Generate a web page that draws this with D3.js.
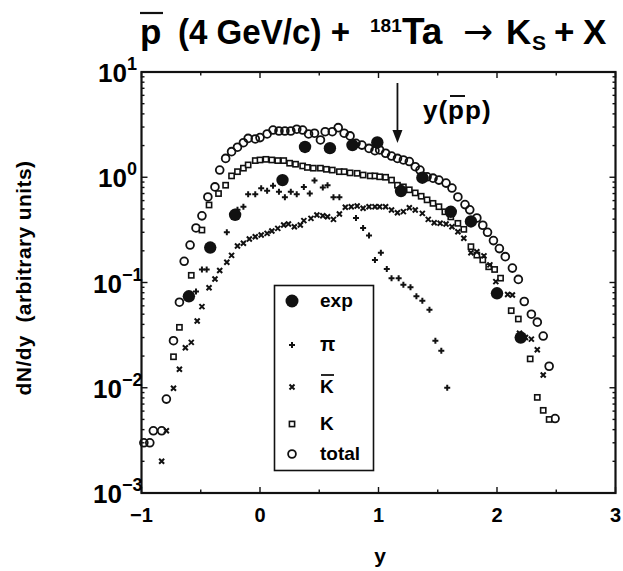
<!DOCTYPE html>
<html>
<head>
<meta charset="utf-8">
<script src="https://cdn.jsdelivr.net/npm/d3@7"></script>
<style>
  body { margin: 0; background: #fff; }
  svg { display: block; font-family: "Liberation Sans", Arial, sans-serif; font-weight: bold; }
</style>
</head>
<body>
<script>
// dN/dy of K_S for pbar(4 GeV/c) + Ta, rapidity vs yield

// experimental points (filled circles)
const expData = [
  [-0.60, 0.074], [-0.42, 0.215], [-0.21, 0.44], [0.19, 0.94], [0.38, 1.94],
  [0.59, 1.89], [0.78, 2.02], [0.99, 2.14], [1.19, 0.74], [1.37, 0.99],
  [1.61, 0.47], [1.78, 0.38], [2.00, 0.079], [2.20, 0.030]
];

// pion-induced component (plus)
const piData = [
  [-0.54, 0.082], [-0.49, 0.133], [-0.45, 0.133], [-0.28, 0.30], [-0.19, 0.49],
  [-0.14, 0.525], [-0.10, 0.69], [-0.04, 0.69], [0.01, 0.785], [0.06, 0.745],
  [0.11, 0.83], [0.16, 0.73], [0.21, 0.645], [0.26, 0.73], [0.31, 0.69],
  [0.37, 0.81], [0.42, 0.70], [0.46, 0.93], [0.53, 0.80], [0.57, 0.84],
  [0.62, 0.645], [0.67, 0.645], [0.81, 0.41], [0.87, 0.33], [0.92, 0.28],
  [0.97, 0.164], [1.02, 0.192], [1.07, 0.134], [1.11, 0.110], [1.17, 0.110],
  [1.21, 0.095], [1.27, 0.090], [1.32, 0.074], [1.37, 0.067], [1.43, 0.055],
  [1.48, 0.028], [1.53, 0.0225], [1.58, 0.0100]
];

// antikaon component (cross)
const kbarData = [
  [-0.83, 0.0020], [-0.79, 0.0039], [-0.73, 0.0099], [-0.68, 0.0150], [-0.63, 0.024],
  [-0.58, 0.027], [-0.53, 0.043], [-0.49, 0.059], [-0.43, 0.089], [-0.38, 0.108],
  [-0.34, 0.130], [-0.28, 0.156], [-0.24, 0.181], [-0.19, 0.222], [-0.14, 0.236],
  [-0.09, 0.259], [-0.04, 0.272], [0.01, 0.283], [0.06, 0.293], [0.10, 0.308],
  [0.15, 0.327], [0.20, 0.352], [0.24, 0.360], [0.29, 0.339], [0.34, 0.352],
  [0.37, 0.387], [0.43, 0.407], [0.48, 0.438], [0.53, 0.431], [0.57, 0.422],
  [0.62, 0.398], [0.67, 0.448], [0.72, 0.518], [0.77, 0.525], [0.82, 0.533],
  [0.87, 0.507], [0.92, 0.525], [0.97, 0.525], [1.01, 0.525], [1.06, 0.525],
  [1.11, 0.489], [1.16, 0.460], [1.21, 0.471], [1.26, 0.514], [1.31, 0.489],
  [1.37, 0.454], [1.42, 0.398], [1.47, 0.370], [1.52, 0.365], [1.57, 0.360],
  [1.62, 0.339], [1.67, 0.304], [1.72, 0.263], [1.78, 0.192], [1.83, 0.196],
  [1.89, 0.179], [1.94, 0.147], [1.99, 0.102], [2.09, 0.077], [2.13, 0.076],
  [2.19, 0.033], [2.24, 0.030], [2.29, 0.029], [2.34, 0.023], [2.39, 0.0132]
];

// kaon component (open square)
const kData = [
  [-0.73, 0.0197], [-0.68, 0.0375], [-0.58, 0.117], [-0.49, 0.315], [-0.43, 0.545],
  [-0.35, 0.70], [-0.29, 0.84], [-0.24, 1.03], [-0.19, 1.13], [-0.14, 1.22],
  [-0.10, 1.31], [-0.04, 1.44], [0.00, 1.46], [0.05, 1.48], [0.10, 1.46],
  [0.15, 1.44], [0.20, 1.44], [0.25, 1.36], [0.30, 1.33], [0.36, 1.28],
  [0.40, 1.24], [0.45, 1.22], [0.51, 1.22], [0.56, 1.19], [0.61, 1.17],
  [0.67, 1.13], [0.71, 1.13], [0.76, 1.10], [0.82, 1.09], [0.87, 1.05],
  [0.93, 1.03], [0.97, 1.03], [1.01, 1.01], [1.06, 1.00], [1.11, 0.94],
  [1.16, 0.84], [1.21, 0.81], [1.26, 0.76], [1.31, 0.71], [1.36, 0.66],
  [1.41, 0.61], [1.46, 0.565], [1.51, 0.525], [1.56, 0.47], [1.61, 0.42],
  [1.67, 0.365], [1.72, 0.32], [1.78, 0.219], [1.83, 0.182], [1.88, 0.164],
  [1.93, 0.141], [1.98, 0.133], [2.03, 0.110], [2.12, 0.054], [2.18, 0.045],
  [2.28, 0.0188], [2.34, 0.0081], [2.39, 0.0061], [2.44, 0.0050]
];

// sum of components (open circle)
const totalData = [
  [-0.98, 0.0030], [-0.93, 0.0030], [-0.90, 0.0039], [-0.83, 0.0039], [-0.79, 0.0078],
  [-0.73, 0.028], [-0.68, 0.065], [-0.64, 0.159], [-0.59, 0.227], [-0.54, 0.33],
  [-0.49, 0.43], [-0.44, 0.65], [-0.38, 0.81], [-0.34, 1.17], [-0.29, 1.51],
  [-0.24, 1.75], [-0.19, 1.93], [-0.14, 2.13], [-0.10, 2.34], [-0.04, 2.31],
  [0.00, 2.38], [0.06, 2.58], [0.11, 2.81], [0.16, 2.75], [0.21, 2.75],
  [0.26, 2.75], [0.31, 2.86], [0.36, 2.81], [0.41, 2.58], [0.46, 2.62],
  [0.51, 2.26], [0.55, 2.71], [0.61, 2.71], [0.66, 2.96], [0.71, 2.62],
  [0.76, 2.47], [0.81, 2.10], [0.86, 2.02], [0.92, 1.88], [0.97, 1.79],
  [1.01, 1.82], [1.06, 1.69], [1.11, 1.59], [1.16, 1.51], [1.21, 1.46],
  [1.26, 1.41], [1.31, 1.26], [1.35, 1.17], [1.41, 1.01], [1.46, 0.98],
  [1.51, 0.94], [1.57, 0.88], [1.62, 0.79], [1.67, 0.65], [1.73, 0.55],
  [1.77, 0.49], [1.83, 0.41], [1.88, 0.35], [1.92, 0.30], [1.97, 0.25],
  [2.02, 0.21], [2.07, 0.176], [2.13, 0.137], [2.18, 0.107], [2.23, 0.066],
  [2.29, 0.050], [2.34, 0.042], [2.39, 0.031], [2.44, 0.016], [2.49, 0.0051]
];

const xTicks = [-1, 0, 1, 2, 3];
const yDecades = [-3, -2, -1, 0, 1];
const legendItems = ["exp", "π", "K", "K", "total"]; // 3rd one gets an overbar
const beamRapidity = 1.16; // arrow position, y(pbar p)

const width = 623, height = 571;
const mLeft = 141.5, mRight = 615.5, mTop = 72, mBottom = 493;

const x = d3.scaleLinear().domain([-1, 3]).range([mLeft, mRight]);
const y = d3.scaleLog().domain([1e-3, 1e1]).range([mBottom, mTop]);

const svg = d3.select("body").append("svg")
    .attr("width", width)
    .attr("height", height);

const ink = "#111";

// ---- ticks (inward, on all four sides) ----
const halfTicks = d3.range(-1, 3.01, 0.5);
const minorLog = [];
for (const e of yDecades.slice(0, -1)) for (let m = 2; m <= 9; m++) minorLog.push(m * Math.pow(10, e));
const majorLog = yDecades.map(e => Math.pow(10, e));

const tickG = svg.append("g").attr("stroke", ink).attr("stroke-width", 1.4);
tickG.append("g").selectAll("line").data(halfTicks).join("line")
    .attr("x1", d => x(d)).attr("x2", d => x(d))
    .attr("y1", mBottom).attr("y2", d => mBottom - (Number.isInteger(d) ? 6 : 3.5));
tickG.append("g").selectAll("line").data(halfTicks).join("line")
    .attr("x1", d => x(d)).attr("x2", d => x(d))
    .attr("y1", mTop).attr("y2", d => mTop + (Number.isInteger(d) ? 6 : 3.5));
for (const [x0, dir] of [[mLeft, 1], [mRight, -1]]) {
  tickG.append("g").selectAll("line").data(minorLog).join("line")
      .attr("x1", x0).attr("x2", x0 + dir * 3)
      .attr("y1", d => y(d)).attr("y2", d => y(d));
  tickG.append("g").selectAll("line").data(majorLog).join("line")
      .attr("x1", x0).attr("x2", x0 + dir * 6)
      .attr("y1", d => y(d)).attr("y2", d => y(d));
}

// frame
svg.append("rect")
    .attr("x", mLeft).attr("y", mTop)
    .attr("width", mRight - mLeft).attr("height", mBottom - mTop)
    .attr("fill", "none").attr("stroke", ink).attr("stroke-width", 2.2);

// ---- tick labels ----
svg.append("g").selectAll("text").data(xTicks).join("text")
    .attr("x", d => x(d)).attr("y", 522)
    .attr("text-anchor", "middle")
    .attr("font-size", 20)
    .text(d => d < 0 ? "\u2212" + Math.abs(d) : d);

const yl = svg.append("g").selectAll("text").data(yDecades).join("text")
    .attr("x", d => d < 0 ? 93 : 98).attr("y", d => y(Math.pow(10, d)) + 10)
    .attr("font-size", 26);
yl.append("tspan").text("10");
yl.append("tspan").attr("font-size", 18).attr("dy", -12).text(d => d < 0 ? "\u2212" + Math.abs(d) : d);

// axis titles
svg.append("text")
    .attr("x", 380).attr("y", 563)
    .attr("text-anchor", "middle").attr("font-size", 21)
    .text("y");
svg.append("text")
    .attr("transform", "translate(31,278) rotate(-90)")
    .attr("text-anchor", "middle").attr("font-size", 21)
    .attr("letter-spacing", 0.4)
    .attr("xml:space", "preserve")
    .text("dN/dy  (arbitrary units)");

// ---- title ----
const title = svg.append("text")
    .attr("y", 44)
    .attr("font-size", 35)
    .attr("xml:space", "preserve");
title.append("tspan").attr("x", 140).text("p");
title.append("tspan").attr("x", 178).attr("textLength", 172).attr("lengthAdjust", "spacingAndGlyphs")
    .text("(4 GeV/c) +");
title.append("tspan").attr("x", 370).attr("y", 32).attr("font-size", 19).text("181");
title.append("tspan").attr("x", 402).attr("y", 44).attr("font-size", 37).text("Ta");
title.append("tspan").attr("x", 463).attr("font-family", "DejaVu Sans").attr("font-weight", "normal")
    .attr("font-size", 36).text("\u2192");
title.append("tspan").attr("x", 506).text("K");
title.append("tspan").attr("x", 532).attr("y", 50).attr("font-size", 21).text("S");
title.append("tspan").attr("x", 554).attr("y", 44).text("+");
title.append("tspan").attr("x", 583).text("X");
svg.append("line").attr("x1", 140).attr("x2", 163).attr("y1", 13).attr("y2", 13)
    .attr("stroke", ink).attr("stroke-width", 2.2);

// ---- arrow for y(pbar p) ----
const ax = x(beamRapidity);
svg.append("line").attr("x1", ax).attr("x2", ax).attr("y1", 83).attr("y2", 136)
    .attr("stroke", ink).attr("stroke-width", 1.8);
svg.append("path")
    .attr("d", `M${ax - 5},${130} L${ax},${143} L${ax + 5},${130} Z`)
    .attr("fill", ink);
svg.append("text").attr("x", 423).attr("y", 119).attr("font-size", 26)
    .attr("letter-spacing", 1)
    .text("y(pp)");
svg.append("line").attr("x1", 450).attr("x2", 465).attr("y1", 96).attr("y2", 96)
    .attr("stroke", ink).attr("stroke-width", 2);

// ---- markers ----
function plus(g, s) {
  g.append("path").attr("d", `M${-s},0H${s}M0,${-s}V${s}`).attr("stroke", ink).attr("stroke-width", 2);
}
function cross(g, s) {
  g.append("path").attr("d", `M${-s},${-s}L${s},${s}M${-s},${s}L${s},${-s}`).attr("stroke", ink).attr("stroke-width", 2);
}
function square(g, s) {
  g.append("rect").attr("x", -s).attr("y", -s).attr("width", 2 * s).attr("height", 2 * s)
      .attr("fill", "#fff").attr("stroke", ink).attr("stroke-width", 1.6);
}
function ring(g, r) {
  g.append("circle").attr("r", r).attr("fill", "none").attr("stroke", ink).attr("stroke-width", 1.8);
}
function dot(g, r) {
  g.append("circle").attr("r", r).attr("fill", ink);
}

const series = [
  { data: totalData, draw: g => ring(g, 3.9) },
  { data: kData, draw: g => square(g, 2.6) },
  { data: kbarData, draw: g => cross(g, 2.5) },
  { data: piData, draw: g => plus(g, 3) },
  { data: expData, draw: g => dot(g, 6.2) }
];

for (const s of series) {
  svg.append("g").selectAll("g").data(s.data).join("g")
      .attr("transform", d => `translate(${x(d[0])},${y(d[1])})`)
      .each(function () { s.draw(d3.select(this)); });
}

// ---- legend ----
const lg = svg.append("g");
lg.append("rect").attr("x", 274.5).attr("y", 285.5).attr("width", 99).attr("height", 185)
    .attr("fill", "#fff").attr("stroke", ink).attr("stroke-width", 1.6);
const rowY = [301, 345, 387, 424, 454];
const drawers = [g => dot(g, 6.5), g => plus(g, 3), g => cross(g, 2.5), g => square(g, 2.6), g => ring(g, 3.9)];
legendItems.forEach((name, i) => {
  const g = lg.append("g").attr("transform", `translate(292,${rowY[i]})`);
  drawers[i](g);
  lg.append("text").attr("x", 320).attr("y", rowY[i] + 6)
      .attr("font-size", i === 1 ? 20 : 19)
      .text(name);
});
// overbar on K-bar
lg.append("line").attr("x1", 321).attr("x2", 334).attr("y1", 375).attr("y2", 375)
    .attr("stroke", ink).attr("stroke-width", 1.8);
</script>
</body>
</html>
